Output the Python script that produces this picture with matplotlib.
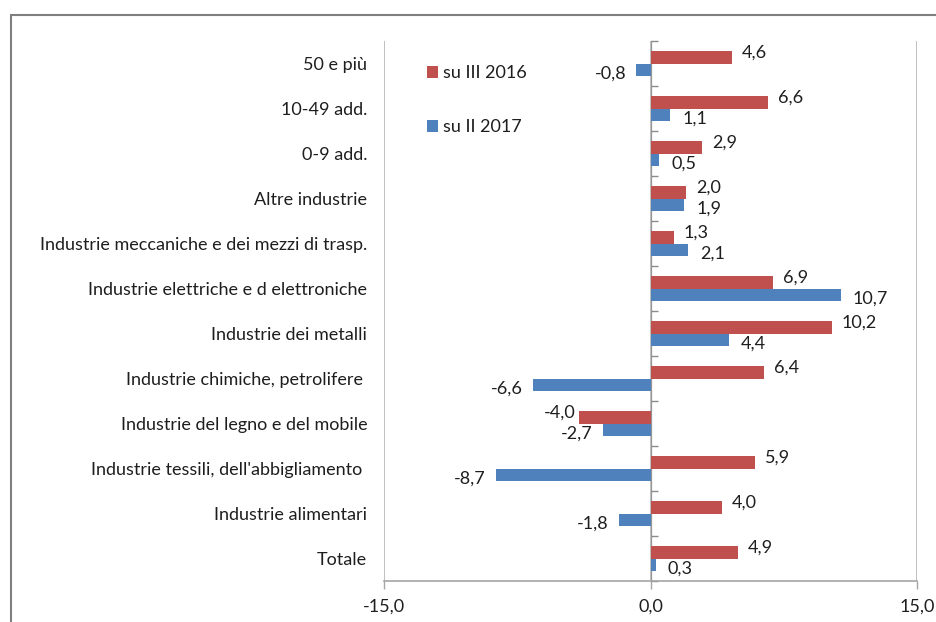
import matplotlib
matplotlib.use("Agg")
import matplotlib.pyplot as plt
import numpy as np
from matplotlib.patches import Rectangle

categories = [
    "Totale",
    "Industrie alimentari",
    "Industrie tessili, dell'abbigliamento ",
    "Industrie del legno e del mobile",
    "Industrie chimiche, petrolifere ",
    "Industrie dei metalli",
    "Industrie elettriche e d elettroniche",
    "Industrie meccaniche e dei mezzi di trasp.",
    "Altre industrie",
    "0-9 add.",
    "10-49 add.",
    "50 e più",
]
su_III_2016 = [4.9, 4.0, 5.9, -4.0, 6.4, 10.2, 6.9, 1.3, 2.0, 2.9, 6.6, 4.6]
su_II_2017 = [0.3, -1.8, -8.7, -2.7, -6.6, 4.4, 10.7, 2.1, 1.9, 0.5, 1.1, -0.8]
series_names = ["su III 2016", "su II 2017"]
xticks = [-15, 0, 15]
xtick_labels = ["-15,0", "0,0", "15,0"]

RED = "#C0504D"
BLUE = "#4F81BD"
TXT = "#1e1e1e"
FONT = ["Lato", "DejaVu Sans"]
FS = 13
plt.rcParams["font.family"] = FONT

fig = plt.figure(figsize=(9.36, 6.22), dpi=100)
W, H = 936, 622
ax = fig.add_axes([384 / W, 1 - 581 / H, (917 - 384) / W, (581 - 41) / H])

# outer chart frame (cropped at right/bottom)
fig.patches.append(Rectangle((10.5 / W, -0.1), 1.2, 1.1 - 14.5 / H, transform=fig.transFigure,
                             fill=False, edgecolor="#7f7f7f", linewidth=1.5, zorder=0))

y = np.arange(len(categories))
h = 0.27
off = 0.135
ax.barh(y + off, su_III_2016, height=h, color=RED, label=series_names[0], zorder=3)
ax.barh(y - off, su_II_2017, height=h, color=BLUE, label=series_names[1], zorder=3)

ax.set_xlim(-15, 15)
ax.set_ylim(-0.5, len(categories) - 0.5)

# data labels
def fmt(v):
    return f"{v:.1f}".replace(".", ",")

for yi, v in zip(y, su_III_2016):
    ha = "left" if v >= 0 else "right"
    dx = 10 if v >= 0 else -4
    ax.annotate(fmt(v), (v, yi + off), xytext=(dx, 5), textcoords="offset pixels",
                ha=ha, va="center", fontsize=FS, color=TXT, zorder=4)
for yi, v in zip(y, su_II_2017):
    ha = "left" if v >= 0 else "right"
    dx = 12 if v >= 0 else -10
    ax.annotate(fmt(v), (v, yi - off), xytext=(dx, -4), textcoords="offset pixels",
                ha=ha, va="center", fontsize=FS, color=TXT, zorder=4)

# category labels
ax.set_yticks(y)
ax.set_yticklabels(categories, fontsize=FS, color=TXT)
ax.tick_params(axis="y", length=0, pad=12)

# x axis
ax.set_xticks(xticks)
ax.set_xticklabels(xtick_labels, fontsize=FS, color=TXT)
ax.tick_params(axis="x", length=6, width=1, color="#a6a6a6", pad=7)

for s in ["left", "right", "top"]:
    ax.spines[s].set_visible(False)
ax.spines["bottom"].set_color("#a6a6a6")
ax.spines["bottom"].set_linewidth(1.2)

# gridlines at -15 and 15
ax.grid(axis="x", color="#b5b5b5", linewidth=1.2, zorder=0)
ax.set_axisbelow(True)

# vertical category axis at zero with boundary ticks
sec = ax.secondary_yaxis(0.5)
sec.set_yticks(np.arange(-0.5, len(categories), 1.0))
sec.set_yticklabels([])
sec.tick_params(length=5, width=1, color="#8c8c8c", direction="out")
sec.spines["left"].set_color("#8c8c8c")
sec.spines["left"].set_linewidth(1.2)

leg = ax.legend(loc="upper left", bbox_to_anchor=(420 / W, 1 - 58 / H),
                bbox_transform=fig.transFigure, frameon=False, fontsize=FS,
                handlelength=0.6, handleheight=0.6, handletextpad=0.3,
                labelspacing=2.1, borderaxespad=0)
for t in leg.get_texts():
    t.set_color(TXT)

fig.savefig("out.png", dpi=100)
